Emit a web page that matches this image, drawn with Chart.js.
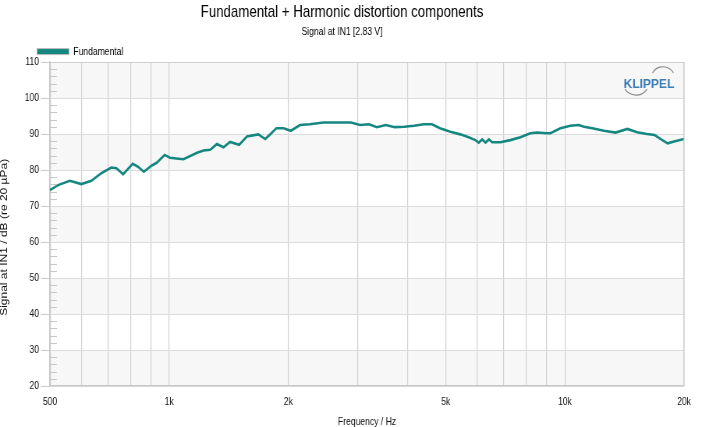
<!DOCTYPE html>
<html>
<head>
<meta charset="utf-8">
<script src="https://cdn.jsdelivr.net/npm/chart.js@4"></script>
<style>
  html, body { margin: 0; padding: 0; background: #fff; overflow: hidden; }
  /* the reference is squeezed horizontally, so draw wide and squeeze */
  #myChart { transform: scaleX(0.78); transform-origin: 0 0; display: block; }
</style>
</head>
<body>
<canvas id="myChart" width="909" height="427"></canvas>
<script>
// Data
var freqs = [500, 524, 561, 600, 636, 674, 714, 736, 765, 809, 834, 863, 902, 930, 974,
  1005, 1042, 1087, 1176, 1222, 1270, 1320, 1372, 1425, 1503, 1572, 1680, 1749, 1800,
  1866, 1945, 2030, 2141, 2264, 2455, 2646, 2880, 3035, 3197, 3349, 3528, 3713, 3926,
  4160, 4395, 4612, 4835, 5135, 5440, 5711, 5940, 6056, 6180, 6300, 6425, 6555, 6870,
  7280, 7718, 8180, 8500, 9010, 9190, 9740, 10320, 10840, 11170, 11730, 12550, 13430,
  14380, 15220, 16120, 16860, 17500, 18170, 18870, 20000];
var fundamental = [74.4, 75.8, 77.0, 76.1, 77.0, 79.1, 80.7, 80.5, 78.8, 81.7, 80.9, 79.5, 81.2, 82.0, 84.2,
  83.4, 83.2, 83.0, 84.8, 85.4, 85.6, 87.2, 86.3, 87.8, 87.0, 89.3, 89.9, 88.6, 89.9,
  91.6, 91.6, 90.9, 92.5, 92.7, 93.2, 93.2, 93.2, 92.5, 92.7, 91.9, 92.5, 91.9, 92.0,
  92.3, 92.7, 92.7, 91.6, 90.6, 89.9, 89.1, 88.3, 87.6, 88.5, 87.6, 88.5, 87.7, 87.7,
  88.3, 89.1, 90.2, 90.4, 90.2, 90.2, 91.6, 92.3, 92.5, 92.0, 91.6, 90.9, 90.4,
  91.4, 90.5, 90.0, 89.7, 88.5, 87.4, 87.9, 88.6];

var xGridValues = [500, 600, 700, 800, 900, 1000, 2000, 3000, 4000, 5000, 6000, 7000, 8000, 9000, 10000, 20000];
var xTickValues = [500, 1000, 2000, 5000, 10000, 20000];
var xTickLabels = ["500", "1k", "2k", "5k", "10k", "20k"];

var lineColor = "#158781";
var textColor = "#111";
var sans = "'Liberation Sans', Arial, sans-serif";
var sx = 0.78; // horizontal squeeze used in the css

var points = freqs.map(function (f, i) {
  return { x: f, y: fundamental[i] };
});

// bands, minor ticks, frame and logo
var decor = {
  id: "decor",
  afterLayout: function (chart) {
    chart.legend.left = 37 / sx - 4.5;
  },
  beforeDraw: function (chart) {
    var ctx = chart.ctx;
    var a = chart.chartArea;
    var y = chart.scales.y;
    ctx.save();
    ctx.fillStyle = "#fff";
    ctx.fillRect(0, 0, chart.width, chart.height);
    ctx.fillStyle = "#f7f7f7";
    for (var v = 20; v < 110; v += 20) {
      var top = y.getPixelForValue(v + 10);
      var bot = y.getPixelForValue(v);
      ctx.fillRect(a.left, top, a.right - a.left, bot - top);
    }
    ctx.restore();
  },
  afterDraw: function (chart) {
    var ctx = chart.ctx;
    var a = chart.chartArea;
    var y = chart.scales.y;
    ctx.save();
    ctx.strokeStyle = "#c8c8c8";
    ctx.lineWidth = 1;
    for (var v = 22; v < 110; v += 2) {
      if (v % 10 === 0) continue;
      var py = Math.round(y.getPixelForValue(v)) + 0.5;
      ctx.beginPath();
      ctx.moveTo(a.left, py);
      ctx.lineTo(a.left + 9, py);
      ctx.stroke();
    }
    ctx.strokeStyle = "#cfcfcf";
    ctx.beginPath();
    ctx.moveTo(a.left, Math.round(a.top) + 0.5);
    ctx.lineTo(a.right, Math.round(a.top) + 0.5);
    ctx.stroke();
    ctx.lineWidth = 1.3;
    ctx.beginPath();
    ctx.moveTo(a.right, a.top);
    ctx.lineTo(a.right, a.bottom);
    ctx.stroke();

    // logo
    ctx.strokeStyle = "#8a8a8a";
    ctx.lineWidth = 1.2;
    ctx.beginPath();
    ctx.ellipse(663 / sx, 79, 12.2 / sx, 12.2, 0, 1.17 * Math.PI, 1.83 * Math.PI);
    ctx.stroke();
    ctx.beginPath();
    ctx.ellipse(636 / sx, 82, 13.1 / sx, 13.1, 0, 0.18 * Math.PI, 0.82 * Math.PI);
    ctx.stroke();
    ctx.translate(649 / sx, 85);
    ctx.scale(1 / sx, 1);
    ctx.fillStyle = "#3c7db5";
    ctx.font = "bold 12px " + sans;
    ctx.textAlign = "center";
    ctx.textBaseline = "middle";
    ctx.fillText("KLIPPEL", 0, 0);
    ctx.restore();
  }
};

var ctx = document.getElementById("myChart").getContext("2d");
var myChart = new Chart(ctx, {
  type: "line",
  data: {
    datasets: [{
      label: "Fundamental",
      data: points,
      borderColor: lineColor,
      backgroundColor: lineColor,
      borderWidth: 2.6,
      pointRadius: 0,
      tension: 0,
      fill: false
    }]
  },
  plugins: [decor],
  options: {
    responsive: false,
    animation: false,
    layout: { padding: { left: 0, right: 32, top: 0, bottom: 0 } },
    plugins: {
      tooltip: { enabled: false },
      title: {
        display: true,
        text: "Fundamental + Harmonic distortion components",
        color: "#000",
        font: { family: sans, size: 17, weight: "normal" },
        padding: { top: 2, bottom: 1 }
      },
      subtitle: {
        display: true,
        text: "Signal at IN1 [2.83 V]",
        color: "#000",
        font: { family: sans, size: 11 },
        padding: { top: 2, bottom: 3 }
      },
      legend: {
        display: true,
        position: "top",
        align: "start",
        maxHeight: 20.4,
        labels: {
          boxWidth: 41,
          boxHeight: 6,
          padding: 4.5,
          color: "#000",
          font: { family: sans, size: 11 },
          generateLabels: function (chart) {
            return [{
              text: "Fundamental",
              fillStyle: lineColor,
              strokeStyle: "#bdbdbd",
              lineWidth: 1,
              datasetIndex: 0
            }];
          }
        }
      }
    },
    scales: {
      x: {
        type: "logarithmic",
        min: 500,
        max: 20000,
        afterBuildTicks: function (scale) {
          scale.ticks = xGridValues.map(function (v) { return { value: v }; });
        },
        afterFit: function (scale) {
          scale.height = 41;
        },
        ticks: {
          autoSkip: false,
          maxRotation: 0,
          padding: 9,
          color: textColor,
          font: { family: sans, size: 11 },
          callback: function (value) {
            var i = xTickValues.indexOf(value);
            return i >= 0 ? xTickLabels[i] : "";
          }
        },
        grid: { color: "#d2d2d2", lineWidth: 1.2, drawTicks: false },
        border: { color: "#c8c8c8", width: 1.3 },
        title: {
          display: true,
          text: "Frequency / Hz",
          color: textColor,
          font: { family: sans, size: 11, lineHeight: 1 },
          padding: { top: 1, bottom: 0 }
        }
      },
      y: {
        min: 20,
        max: 110,
        afterFit: function (scale) {
          scale.width = 50 / sx;
        },
        ticks: {
          stepSize: 10,
          padding: 2.6,
          color: textColor,
          font: { family: sans, size: 11 }
        },
        grid: { color: "#dcdcdc", tickLength: 11.5, tickColor: "#c8c8c8" },
        border: { color: "#c8c8c8", width: 1.3 },
        title: {
          display: true,
          // trailing no-break spaces push the visible text down a little, as in the reference
          text: "Signal at IN1 / dB (re 20 µPa)\u00a0\u00a0\u00a0\u00a0\u00a0\u00a0\u00a0\u00a0",
          color: textColor,
          font: { family: sans, size: 12, lineHeight: 1 },
          padding: { top: 0, bottom: 0 }
        }
      }
    }
  }
});
</script>
</body>
</html>
